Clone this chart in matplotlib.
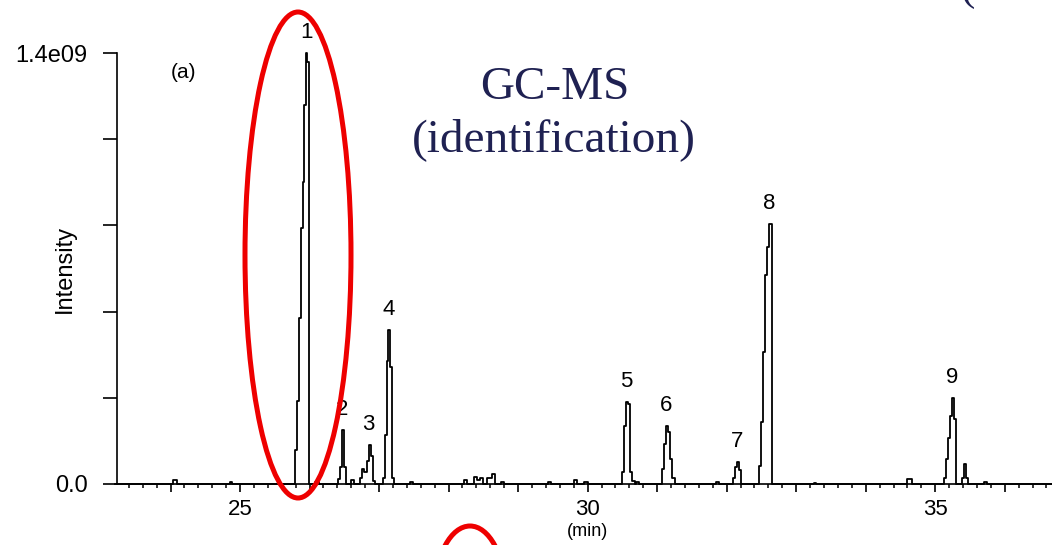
import matplotlib.pyplot as plt
from matplotlib.patches import Ellipse
from matplotlib.ticker import MultipleLocator, FuncFormatter

# ------------- DATA (intensity in units of 1e9) -------------
peak1 = [(25.76, 0.0), (25.79, 0.11), (25.82, 0.27), (25.85, 0.54), (25.88, 0.83),
         (25.91, 0.98), (25.925, 1.23), (25.95, 1.40), (25.97, 1.37), (25.99, 0.0)]
peak2 = [(26.41, 0.015), (26.44, 0.055), (26.465, 0.175), (26.49, 0.055), (26.52, 0.0)]
peak3 = [(26.73, 0.02), (26.76, 0.05), (26.79, 0.04), (26.82, 0.075), (26.85, 0.127),
         (26.88, 0.09), (26.91, 0.01), (26.94, 0.0)]
peak4 = [(27.06, 0.02), (27.085, 0.16), (27.11, 0.40), (27.135, 0.50), (27.16, 0.38),
         (27.19, 0.02), (27.22, 0.0)]
peak5 = [(30.50, 0.04), (30.53, 0.19), (30.555, 0.266), (30.58, 0.26), (30.605, 0.04),
         (30.64, 0.01), (30.68, 0.0)]
peak6 = [(31.07, 0.05), (31.10, 0.13), (31.13, 0.19), (31.16, 0.17), (31.19, 0.08),
         (31.22, 0.02), (31.25, 0.0)]
peak7 = [(32.09, 0.02), (32.12, 0.055), (32.15, 0.071), (32.18, 0.045), (32.21, 0.0)]
peak8 = [(32.46, 0.06), (32.49, 0.20), (32.52, 0.43), (32.55, 0.68), (32.58, 0.77),
         (32.61, 0.845), (32.645, 0.0)]
peak9 = [(35.12, 0.02), (35.15, 0.08), (35.18, 0.15), (35.21, 0.22), (35.24, 0.28),
         (35.27, 0.21), (35.30, 0.0), (35.38, 0.02), (35.41, 0.065), (35.44, 0.02), (35.47, 0.0)]
peaks = [peak1, peak2, peak3, peak4, peak5, peak6, peak7, peak8, peak9]
peak_names = ["1", "2", "3", "4", "5", "6", "7", "8", "9"]

# small baseline bumps
noise = [(23.2, 0.0), (24.00, 0.0), (24.04, 0.012), (24.09, 0.0), (24.85, 0.006), (24.89, 0.0),
         (26.08, 0.008), (26.13, 0.0), (26.60, 0.012), (26.64, 0.0), (27.45, 0.006), (27.49, 0.0),
         (28.22, 0.014), (28.27, 0.0), (28.36, 0.022), (28.41, 0.012), (28.45, 0.018), (28.50, 0.0),
         (28.55, 0.02), (28.62, 0.032), (28.67, 0.0), (28.75, 0.008), (28.79, 0.0),
         (29.43, 0.007), (29.48, 0.0), (29.80, 0.012), (29.85, 0.0), (29.95, 0.006), (30.0, 0.0),
         (30.70, 0.006), (30.74, 0.0), (31.85, 0.006), (31.89, 0.0), (33.25, 0.004), (33.29, 0.0),
         (34.60, 0.016), (34.66, 0.0), (35.70, 0.005), (35.74, 0.0), (36.7, 0.0)]

pts = sorted(noise + [p for pk in peaks for p in pk])
times = [p[0] for p in pts]
inten = [p[1] for p in pts]

y_ticks = [0.0, 0.28, 0.56, 0.84, 1.12, 1.40]
y_labels = ["0.0", "", "", "", "", "1.4e09"]

# ------------- PLOT -------------
plt.rcParams['font.family'] = ['Liberation Sans', 'DejaVu Sans']
fig = plt.figure(figsize=(10.52, 5.45), dpi=100)
ax = fig.add_axes([117 / 1052, 61 / 545, 1 - 117 / 1052, 431 / 545])

ax.plot(times, inten, drawstyle='steps-post', color='black', lw=1.3, clip_on=False)

ax.set_xlim(23.23, 36.68)
ax.set_ylim(0, 1.4)
for s in ['top', 'right']:
    ax.spines[s].set_visible(False)
for s in ['left', 'bottom']:
    ax.spines[s].set_linewidth(1.2)

ax.xaxis.set_major_locator(MultipleLocator(1))
ax.xaxis.set_minor_locator(MultipleLocator(0.2))
ax.xaxis.set_major_formatter(FuncFormatter(lambda v, p: f"{v:.0f}" if round(v) % 5 == 0 else ""))
ax.tick_params(axis='x', which='major', length=6, width=1.2, labelsize=16, pad=5)
ax.tick_params(axis='x', which='minor', length=3, width=1.1)
ax.set_yticks(y_ticks)
ax.set_yticklabels(y_labels)
ax.tick_params(axis='y', length=10, width=1.2, labelsize=17, pad=11)

ax.text(-52 / 935, 0.5, "Intensity", rotation=90, ha='center', va='center',
        fontsize=17, transform=ax.transAxes)
ax.text((587 - 117) / 935, -48 / 431, "(min)", ha='center', va='center',
        fontsize=13, transform=ax.transAxes)

# peak labels
for name, pk in zip(peak_names, peaks):
    t_top, h_top = max(pk, key=lambda p: p[1])
    ax.annotate(name, (t_top, h_top), xytext=(0, 7), textcoords='offset points',
                ha='center', va='bottom', fontsize=16, annotation_clip=False)

# overlay in pixel coordinates for slide annotations
ov = fig.add_axes([0, 0, 1, 1], facecolor='none', zorder=5)
ov.set_xlim(0, 1052)
ov.set_ylim(545, 0)
ov.axis('off')
ov.text(183, 72, "(a)", fontsize=15, ha='center', va='center')
navy = '#1f2152'
ov.text(555, 88, "GC-MS", fontsize=34, ha='center', va='center', color=navy, family='Liberation Serif')
ov.text(554, 140, "(identification)", fontsize=34, ha='center', va='center', color=navy,
        family='Liberation Serif')
ov.text(960, 0, "(", fontsize=31, ha='left', va='baseline', color=navy, family='Liberation Serif')
ov.add_patch(Ellipse((298, 255), 106, 486, fill=False, ec='#ee0000', lw=3.6))
ov.add_patch(Ellipse((470, 592), 70, 132, fill=False, ec='#ee0000', lw=3.6, clip_on=False))

fig.savefig("out.png", dpi=100)
